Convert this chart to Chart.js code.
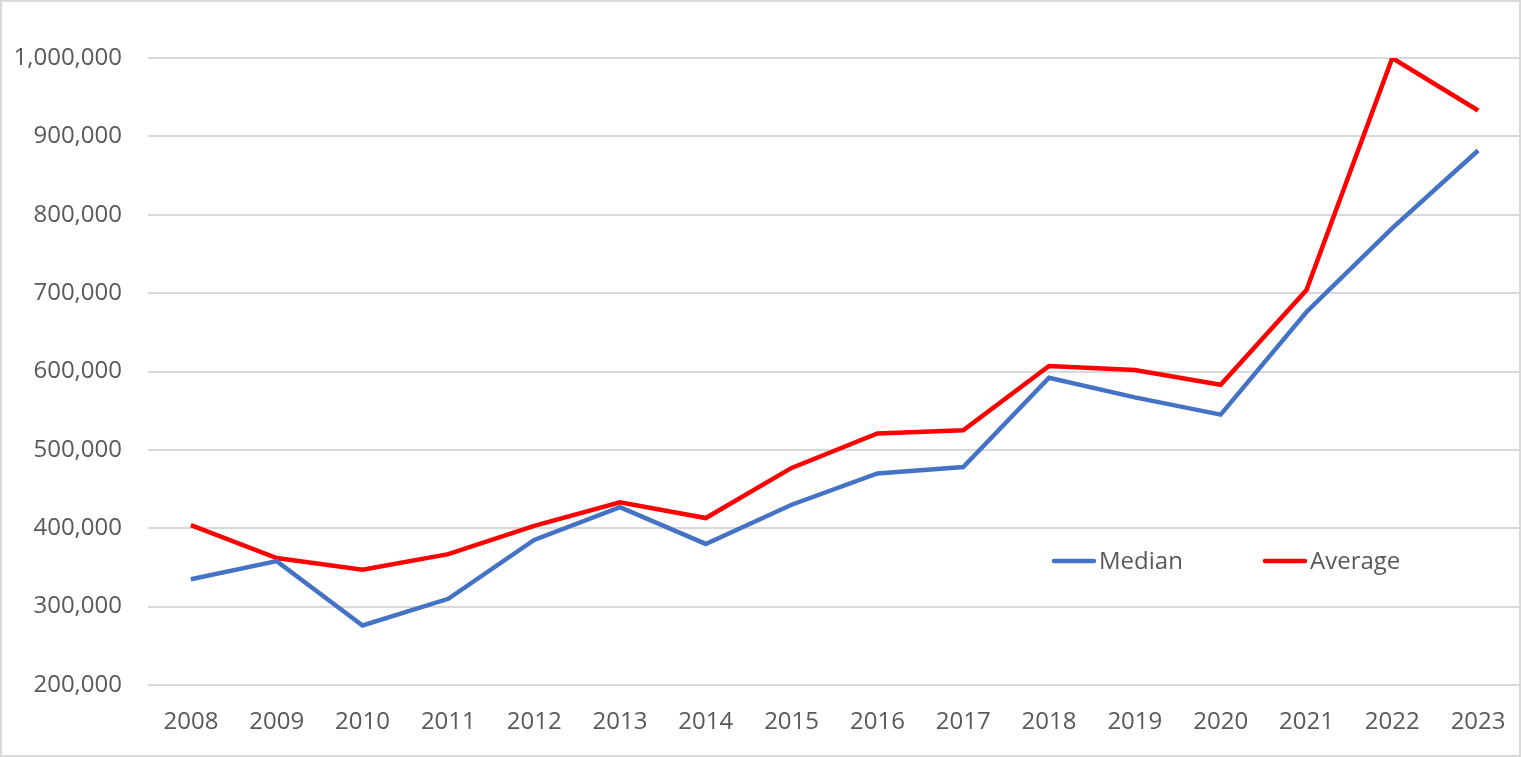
<!DOCTYPE html>
<html>
<head>
<meta charset="utf-8">
<script src="https://cdn.jsdelivr.net/npm/chart.js@4/dist/chart.umd.min.js"></script>
<style>
  html, body { margin: 0; padding: 0; background: #fff; overflow: hidden; }
  canvas { display: block; }
</style>
</head>
<body>
<canvas id="chart" width="1521" height="757"></canvas>
<script>
// data
const years = ["2008", "2009", "2010", "2011", "2012", "2013", "2014", "2015", "2016", "2017", "2018", "2019", "2020", "2021", "2022", "2023"];
const median = [335000, 358000, 276000, 310000, 385000, 427000, 380000, 430000, 470000, 478000, 592000, 567000, 545000, 676000, 783000, 882000];
const average = [404000, 362000, 347000, 367000, 403000, 433000, 413000, 477000, 521000, 525000, 607000, 602000, 583000, 704000, 1000000, 933000];

const font = "'Open Sans', 'Liberation Sans', sans-serif";
const textColor = "#595959";

// bingkai abu-abu di tepi grafik
const frame = {
  id: "frame",
  afterDraw(chart) {
    const c = chart.ctx;
    c.save();
    c.strokeStyle = "#d9d9d9";
    c.lineWidth = 2;
    c.strokeRect(1, 1, chart.width - 2, chart.height - 2);
    c.restore();
  },
};

// legend di dalam area grafik (seperti Excel)
const insideLegend = {
  id: "insideLegend",
  afterDraw(chart) {
    const c = chart.ctx;
    const y = 561;
    const spots = [1051, 1262];
    c.save();
    c.font = "24px " + font;
    c.textBaseline = "middle";
    chart.data.datasets.forEach((ds, i) => {
      const x = spots[i];
      c.strokeStyle = ds.borderColor;
      c.lineWidth = 4.5;
      c.lineCap = "round";
      c.beginPath();
      c.moveTo(x + 3, y);
      c.lineTo(x + 43, y);
      c.stroke();
      c.fillStyle = textColor;
      c.fillText(ds.label, x + 48, y + 1);
    });
    c.restore();
  },
};

const ctx = document.getElementById("chart").getContext("2d");
new Chart(ctx, {
  type: "line",
  data: {
    labels: years,
    datasets: [
      {
        label: "Median",
        data: median,
        borderColor: "#4472C4",
        backgroundColor: "#4472C4",
        borderWidth: 4.5,
        pointRadius: 0,
        tension: 0,
      },
      {
        label: "Average",
        data: average,
        borderColor: "#FF0000",
        backgroundColor: "#FF0000",
        borderWidth: 4.5,
        pointRadius: 0,
        tension: 0,
      },
    ],
  },
  options: {
    responsive: false,
    animation: false,
    layout: { padding: { top: 58, right: 0, left: 0, bottom: 0 } },
    plugins: {
      legend: { display: false },
      tooltip: { enabled: false },
    },
    scales: {
      x: {
        offset: true,
        grid: { display: false },
        border: { display: false },
        afterFit(scale) { scale.height = 72; },
        ticks: {
          color: textColor,
          font: { family: font, size: 24 },
          padding: 15,
          maxRotation: 0,
          autoSkip: false,
        },
      },
      y: {
        min: 200000,
        max: 1000000,
        grid: { color: "#d9d9d9", lineWidth: 2, drawTicks: false },
        border: { display: false },
        afterFit(scale) { scale.width = 148; },
        ticks: {
          stepSize: 100000,
          color: textColor,
          font: { family: font, size: 24 },
          padding: 26,
          callback: (v) => v.toLocaleString("en-US"),
        },
      },
    },
  },
  plugins: [frame, insideLegend],
});
</script>
</body>
</html>
